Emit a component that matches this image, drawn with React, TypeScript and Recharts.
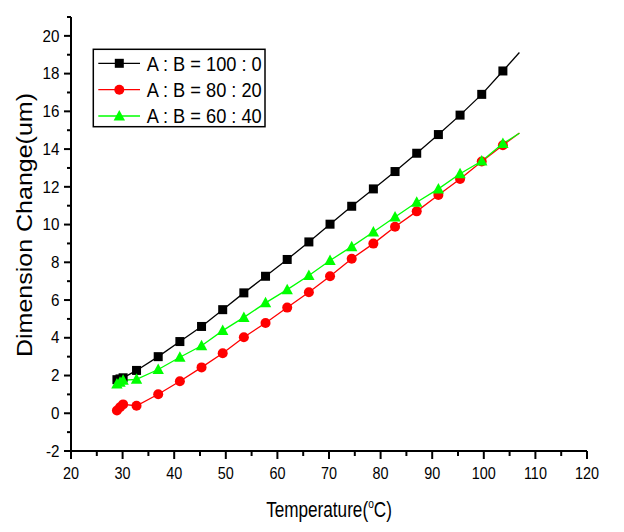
import React from "react";
import { ComposedChart, Line, XAxis, YAxis, Customized } from "recharts";

// ---- data ----
const temperatures = [28.9, 29.5, 30.1, 32.7, 36.9, 41.1, 45.3, 49.4, 53.5, 57.7, 61.9, 66.1, 70.2, 74.4, 78.6, 82.8, 87.0, 91.2, 95.4, 99.6, 103.7];
const ratio100_0 = [1.78, 1.82, 1.88, 2.27, 3.0, 3.8, 4.6, 5.49, 6.38, 7.26, 8.15, 9.08, 10.02, 10.97, 11.89, 12.81, 13.78, 14.77, 15.8, 16.9, 18.14];
const ratio80_20 = [0.15, 0.32, 0.47, 0.4, 1.01, 1.7, 2.43, 3.18, 4.03, 4.78, 5.6, 6.41, 7.26, 8.19, 8.99, 9.88, 10.7, 11.57, 12.42, 13.34, 14.2];
const ratio60_40 = [1.55, 1.65, 1.75, 1.8, 2.32, 2.97, 3.58, 4.38, 5.08, 5.85, 6.55, 7.3, 8.1, 8.83, 9.61, 10.4, 11.18, 11.89, 12.69, 13.37, 14.29];
// where the fitted curves end (beyond the last measured point)
const curveEndTemp = 106.9;
const curveEnd100_0 = 19.12;
const curveEnd80_20 = 14.85;
const curveEnd60_40 = 14.84;

const seriesNames = ["A : B = 100 : 0", "A : B = 80 : 20", "A : B = 60 : 40"];
const xMajorTicks = [20, 30, 40, 50, 60, 70, 80, 90, 100, 110, 120];
const xMinorTicks = [25, 35, 45, 55, 65, 75, 85, 95, 105, 115];
const yMajorTicks = [-2, 0, 2, 4, 6, 8, 10, 12, 14, 16, 18, 20];
const yMinorTicks = [-1, 1, 3, 5, 7, 9, 11, 13, 15, 17, 19, 21];
const xTitle = "Temperature(";
const xTitleSup = "o";
const xTitleEnd = "C)";
const yTitle = "Dimension Change(um)";

const FONT = "'Liberation Sans', Arial, sans-serif";
const BLACK = "#000000";
const RED = "#ff0000";
const GREEN = "#00ff00";

const toRows = (vals: number[]) => temperatures.map((t, i) => ({ t, v: vals[i] }));
const extRows = (vals: number[], end: number) => [
  { t: temperatures[temperatures.length - 1], v: vals[vals.length - 1] },
  { t: curveEndTemp, v: end },
];

const blackRows = toRows(ratio100_0);
const redRows = toRows(ratio80_20);
const greenRows = toRows(ratio60_40);

const xTicks = [...xMajorTicks, ...xMinorTicks].sort((a, b) => a - b);
const yTicks = [...yMajorTicks, ...yMinorTicks].sort((a, b) => a - b);

const XTick = (props: any) => {
  const { x, y, payload } = props;
  const v = payload.value;
  const major = xMajorTicks.includes(v);
  return (
    <g>
      <line x1={x} x2={x} y1={y} y2={y + (major ? 8 : 5)} stroke="#000" strokeWidth={2} />
      {major && (
        <text
          x={0}
          y={0}
          transform={`translate(${x},${y + 27.5}) scale(0.9,1)`}
          textAnchor="middle"
          fontSize={16}
          fontFamily={FONT}
          fill="#000"
        >
          {v}
        </text>
      )}
    </g>
  );
};

const YTick = (props: any) => {
  const { x, y, payload } = props;
  const v = payload.value;
  const major = yMajorTicks.includes(v);
  return (
    <g>
      <line x1={x - (major ? 7 : 4)} x2={x} y1={y} y2={y} stroke="#000" strokeWidth={2} />
      {major && (
        <text
          x={0}
          y={0}
          transform={`translate(${x - 11.5},${y + 5.7}) scale(0.95,1)`}
          textAnchor="end"
          fontSize={16}
          fontFamily={FONT}
          fill="#000"
        >
          {v}
        </text>
      )}
    </g>
  );
};

const squareDot = (p: any) => {
  const { cx, cy, index } = p;
  if (cx == null || cy == null) return <g key={`s${index}`} />;
  return <rect key={`s${index}`} x={cx - 4.5} y={cy - 4.5} width={9} height={9} fill={BLACK} />;
};
const circleDot = (p: any) => {
  const { cx, cy, index } = p;
  if (cx == null || cy == null) return <g key={`c${index}`} />;
  return <circle key={`c${index}`} cx={cx} cy={cy} r={5} fill={RED} />;
};
const triangleDot = (p: any) => {
  const { cx, cy, index } = p;
  if (cx == null || cy == null) return <g key={`t${index}`} />;
  return (
    <polygon
      key={`t${index}`}
      points={`${cx},${cy - 6} ${cx - 5.7},${cy + 4.5} ${cx + 5.7},${cy + 4.5}`}
      fill={GREEN}
    />
  );
};

const Overlay = () => {
  const bx = 85.3;
  const by = 41.3;
  const rows = [55.3, 81.7, 108];
  const colors = [BLACK, RED, GREEN];
  return (
    <g>
      {/* legend */}
      <rect x={bx} y={by} width={171.7} height={77.4} fill="#fff" stroke="#000" strokeWidth={1.5} />
      {rows.map((ry, i) => (
        <g key={i}>
          <line x1={90.3} x2={132} y1={ry} y2={ry} stroke={colors[i]} strokeWidth={1.3} />
          {i === 0 && <rect x={111.3 - 4.5} y={ry - 4.5} width={9} height={9} fill={BLACK} />}
          {i === 1 && <circle cx={111.3} cy={ry} r={5} fill={RED} />}
          {i === 2 && (
            <polygon points={`${111.3},${ry - 6} ${111.3 - 5.7},${ry + 4.5} ${111.3 + 5.7},${ry + 4.5}`} fill={GREEN} />
          )}
          <text
            x={0}
            y={0}
            transform={`translate(138.7,${ry + 7.4}) scale(0.89,1)`}
            fontSize={20.5}
            fontFamily={FONT}
            fill="#000"
          >
            {seriesNames[i]}
          </text>
        </g>
      ))}
      {/* axis titles */}
      <g transform="translate(321,508.7) scale(0.78,1)">
        <text x={0} y={0} textAnchor="middle" fontSize={22} fontFamily={FONT} fill="#000">
          <tspan>{xTitle}</tspan>
          <tspan dy={-9} fontSize={13}>{xTitleSup}</tspan>
          <tspan dy={9} fontSize={22}>{xTitleEnd}</tspan>
        </text>
      </g>
      <text
        x={23.7}
        y={217}
        transform="rotate(-90, 23.7, 217)"
        textAnchor="middle"
        fontSize={22}
        fontFamily={FONT}
        fill="#000"
        textLength={264}
        lengthAdjust="spacingAndGlyphs"
      >
        {yTitle}
      </text>
    </g>
  );
};

export default function App() {
  return (
    <div style={{ width: 608, height: 516, background: "#fff" }}>
      <ComposedChart width={608} height={516} margin={{ top: 9, right: 29, bottom: 43, left: 8 }}>
        <XAxis
          type="number"
          dataKey="t"
          domain={[20, 120]}
          ticks={xTicks}
          interval={0}
          allowDataOverflow
          height={30}
          axisLine={{ stroke: "#000", strokeWidth: 2 }}
          tickLine={false}
          tickSize={0}
          tickMargin={0}
          tick={<XTick />}
        />
        <YAxis
          type="number"
          domain={[-2, 21]}
          ticks={yTicks}
          interval={0}
          allowDataOverflow
          width={55}
          axisLine={{ stroke: "#000", strokeWidth: 2 }}
          tickLine={false}
          tickSize={0}
          tickMargin={0}
          tick={<YTick />}
        />
        <Line data={extRows(ratio100_0, curveEnd100_0)} dataKey="v" type="linear" stroke={BLACK} strokeWidth={1.3} dot={false} activeDot={false} isAnimationActive={false} />
        <Line data={extRows(ratio80_20, curveEnd80_20)} dataKey="v" type="linear" stroke={RED} strokeWidth={1.3} dot={false} activeDot={false} isAnimationActive={false} />
        <Line data={extRows(ratio60_40, curveEnd60_40)} dataKey="v" type="linear" stroke={GREEN} strokeWidth={1.3} dot={false} activeDot={false} isAnimationActive={false} />
        <Line data={blackRows} dataKey="v" type="linear" stroke={BLACK} strokeWidth={1.3} dot={squareDot} activeDot={false} isAnimationActive={false} />
        <Line data={redRows} dataKey="v" type="linear" stroke={RED} strokeWidth={1.3} dot={circleDot} activeDot={false} isAnimationActive={false} />
        <Line data={greenRows} dataKey="v" type="linear" stroke={GREEN} strokeWidth={1.3} dot={triangleDot} activeDot={false} isAnimationActive={false} />
        <Customized component={<Overlay />} />
      </ComposedChart>
    </div>
  );
}
